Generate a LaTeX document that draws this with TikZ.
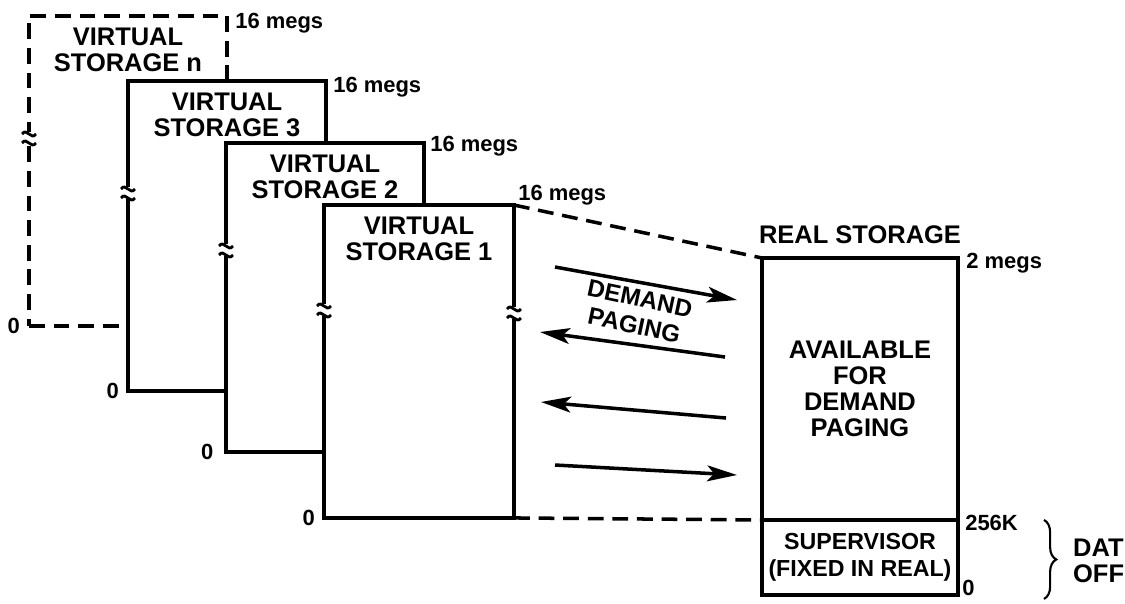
\documentclass[tikz,border=0pt]{standalone}
\usepackage{fontspec}
\setmainfont{Liberation Sans}
\usetikzlibrary{arrows.meta, positioning, calc, decorations.pathreplacing}
\tikzset{
  vbox/.style={rectangle, draw=black, fill=white, line width=2pt,
    anchor=north west, inner sep=0pt, outer sep=0pt},
  lbl/.style={font=\fontsize{14.5}{14.8}\selectfont\bfseries, align=center, inner sep=1pt},
  suplbl/.style={font=\fontsize{13.2}{15}\selectfont\bfseries, align=center, inner sep=1pt},
  meg/.style={font=\fontsize{12.5}{14}\selectfont\bfseries, inner sep=0pt},
  dashline/.style={line width=2pt, dash pattern=on 9pt off 5pt},
  arrow/.style={-{Stealth[length=17pt, width=9pt, inset=4pt]}, line width=2pt},
  brk/.pic={
    \fill[white] (-9,-6) rectangle (9,6);
    \draw[line width=1.6pt] (-7,-4) .. controls (-2,-11) and (2,3) .. (7,-4);
    \draw[line width=1.6pt] (-7,5) .. controls (-2,-2) and (2,12) .. (7,5);
  }
}

\begin{document}
\begin{tikzpicture}[x=0.02cm, y=-0.02cm]
  \useasboundingbox (0,0) rectangle (1125,603);

  % Virtual storage boxes, back to front
  \node[vbox, dashline, minimum width=3.96cm, minimum height=6.2cm] (vsn) at (29,16) {};
  \node[lbl, below=0.2cm of vsn.north] (vsntxt) {VIRTUAL\\STORAGE n};
  \node[vbox, minimum width=3.96cm, minimum height=6.2cm] (vs3) at (128,81) {};
  \node[lbl, below=0.2cm of vs3.north] (vs3txt) {VIRTUAL\\STORAGE 3};
  \node[vbox, minimum width=3.96cm, minimum height=6.18cm] (vs2) at (226,143) {};
  \node[lbl, below=0.2cm of vs2.north] (vs2txt) {VIRTUAL\\STORAGE 2};
  \node[vbox, minimum width=3.8cm, minimum height=6.26cm] (vs1) at (324,205) {};
  \node[lbl, below=0.2cm of vs1.north] (vs1txt) {VIRTUAL\\STORAGE 1};

  % Breaks in the edges
  \pic at ($(vsn.north west)+(0,122)$) {brk};
  \pic at ($(vs3.north west)+(0,112)$) {brk};
  \pic at ($(vs2.north west)+(0,107)$) {brk};
  \pic at ($(vs1.north west)+(0,105)$) {brk};
  \pic at ($(vs1.north east)+(0,108)$) {brk};

  % Top and bottom labels
  \node[meg, anchor=base west] at ($(vsn.north east)+(8,12)$) {16 megs};
  \node[meg, anchor=base west] at ($(vs3.north east)+(7,11)$) {16 megs};
  \node[meg, anchor=base west] at ($(vs2.north east)+(6,8)$) {16 megs};
  \node[meg, anchor=base west] at ($(vs1.north east)+(4,-5)$) {16 megs};
  \node[meg, left=5pt of vsn.south west] {0};
  \node[meg, left=5pt of vs3.south west] {0};
  \node[meg, left=7pt of vs2.south west] {0};
  \node[meg, left=5pt of vs1.south west] {0};

  % Real storage
  \node[vbox, lbl, minimum width=3.92cm, minimum height=5.24cm] (avail) at (762,258)
    {AVAILABLE\\FOR\\DEMAND\\PAGING};
  \node[vbox, suplbl, minimum width=3.92cm, minimum height=1.5cm, below=0pt of avail] (superv)
    {SUPERVISOR\\(FIXED IN REAL)};
  \node[lbl, above=0.24cm of avail.north] (realtxt) {REAL STORAGE};
  \node[meg, anchor=west] at ($(avail.north east)+(8,5)$) {2 megs};
  \node[meg, anchor=west] at ($(avail.south east)+(7,3)$) {256K};
  \node[meg, anchor=west] at ($(superv.south east)+(4,-7)$) {0};

  % DAT off brace
  \draw[line width=1.2pt, decorate, decoration={brace, amplitude=7pt}]
    ($(superv.north east)+(86,0)$) -- ($(superv.south east)+(86,4)$);
  \node[lbl, align=left, anchor=west] (dat) at (1071,561) {DAT\\OFF};

  % Dashed mapping lines
  \draw[dashline] (vs1.north east) -- (avail.north west);
  \draw[dashline] (vs1.south east) -- (avail.south west);

  % Demand paging arrows
  \coordinate (p1) at (555,267); \coordinate (q1) at (737,300);
  \coordinate (p2) at (725,357); \coordinate (q2) at (540,332);
  \coordinate (p3) at (726,418); \coordinate (q3) at (541,402);
  \coordinate (p4) at (555,465); \coordinate (q4) at (737,475);
  \draw[arrow] (p1) -- (q1);
  \draw[arrow] (p2) -- (q2);
  \draw[arrow] (p3) -- (q3);
  \draw[arrow] (p4) -- (q4);
  \node[lbl, font=\fontsize{13.8}{15.6}\selectfont\bfseries, rotate=-12] (dp) at (637,312)
    {DEMAND\\PAGING};

\end{tikzpicture}
\end{document}
